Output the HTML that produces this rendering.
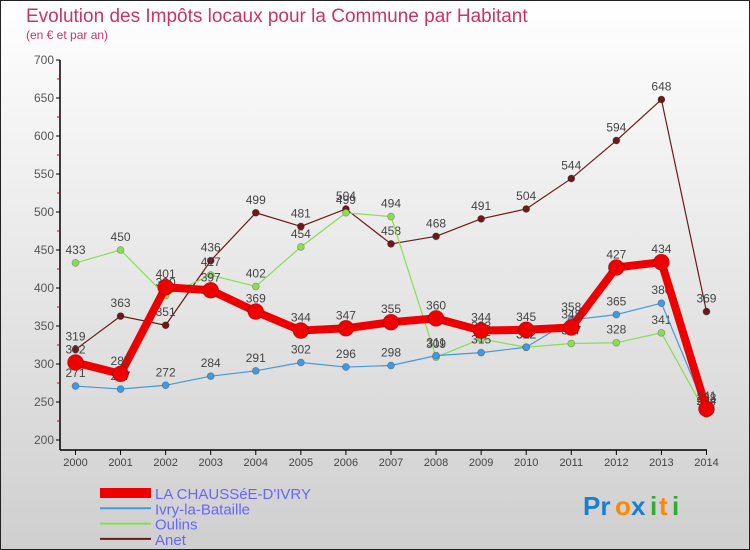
<!DOCTYPE html>
<html><head><meta charset="utf-8"><style>
body{margin:0;}
#wrap{width:750px;height:550px;position:relative;overflow:hidden;font-family:"Liberation Sans",sans-serif;}
svg{display:block}
</style></head><body>
<div id="wrap">
<svg id="chart" width="750" height="550">
<defs><linearGradient id="bg" x1="0" y1="0" x2="0" y2="1"><stop offset="0" stop-color="#ffffff"/><stop offset="1" stop-color="#cfcfcf"/></linearGradient></defs>
<rect x="0.5" y="0.5" width="749" height="549" fill="url(#bg)" stroke="#222"/>
<text x="26" y="22" font-size="19" fill="#cc3366">Evolution des Impôts locaux pour la Commune par Habitant</text>
<text x="26" y="39" font-size="12" fill="#cc3366">(en € et par an)</text>
<g id="axes"></g><g id="series"></g><g id="legend"></g>
<g font-size="26" font-weight="bold">
<text x="583" y="515" fill="#1a7fd0">Pr</text><text x="615" y="515" fill="#ff8800">o</text><text x="631" y="515" fill="#1a7fd0">x</text><text x="650" y="515" fill="#33aa33">i</text><text x="659" y="515" fill="#ff8800">t</text><text x="672" y="515" fill="#33aa33">i</text>
</g>
</svg></div>
<script>
const years=["2000","2001","2002","2003","2004","2005","2006","2007","2008","2009","2010","2011","2012","2013","2014"];
const chaussee=[302,287,401,397,369,344,347,355,360,344,345,348,427,434,241];
const ivry=[271,267,272,284,291,302,296,298,311,315,322,358,365,380,238];
const oulins=[433,450,390,417,402,454,499,494,309,333,322,327,328,341,234];
const anet=[319,363,351,436,499,481,504,458,468,491,504,544,594,648,369];
const yTicks=[200,250,300,350,400,450,500,550,600,650,700];
const NS="http://www.w3.org/2000/svg";
const x=i=>75.5+i*45.07;
const y=v=>440-(v-200)*0.76;
function mk(t,a,p){const e=document.createElementNS(NS,t);for(const k in a)e.setAttribute(k,a[k]);p.appendChild(e);return e;}
const ax=document.getElementById('axes');
const yl=mk('line',{x1:60,y1:60,x2:60,y2:450,stroke:'#000','stroke-width':1.5},ax);


const xl=mk('line',{x1:60,y1:450,x2:707,y2:450,stroke:'#000','stroke-width':1.5},ax);


yTicks.forEach((v,i)=>{
 mk('line',{x1:56,y1:y(v),x2:60,y2:y(v),stroke:'#000'},ax);
 if(i<yTicks.length-1) mk('line',{x1:57,y1:y(v+25),x2:60,y2:y(v+25),stroke:'#d00'},ax);
 const t=mk('text',{x:54,y:y(v)+4,'font-size':12,fill:'#555','text-anchor':'end'},ax);
 t.textContent=v;
 
 
});
years.forEach((yr,i)=>{
 mk('line',{x1:x(i),y1:450,x2:x(i),y2:455,stroke:'#000'},ax);
 const t=mk('text',{x:x(i),y:466,'font-size':11,fill:'#444','text-anchor':'middle'},ax);
 t.textContent=yr;
 
 
});
const sg=document.getElementById('series');
const series=[
 {name:'anet',label:'Anet',data:anet,color:'#6b1a1a',w:1.2,r:3.5},
 {name:'oulins',label:'Oulins',data:oulins,color:'#88dd55',w:1.2,r:3.5},
 {name:'ivry',label:'Ivry-la-Bataille',data:ivry,color:'#4499dd',w:1.2,r:3.5},
 {name:'chaussee',label:'LA CHAUSSéE-D\'IVRY',data:chaussee,color:'#ee0000',w:8,r:8}
];
series.forEach(s=>{
 const g=mk('g',{},sg);
 
 
 const pl=mk('polyline',{points:s.data.map((v,i)=>x(i)+','+y(v)).join(' '),fill:'none',stroke:s.color,'stroke-width':s.w,'stroke-linejoin':'round'},g);
 
 
 s.data.forEach((v,i)=>{
  const c=mk('circle',{cx:x(i),cy:y(v),r:s.r,fill:s.color,stroke:'rgba(0,0,0,0.25)','stroke-width':0.8},g);
  
  
  const t=mk('text',{x:x(i),y:y(v)-9,'font-size':12,fill:'#444','text-anchor':'middle'},g);
  t.textContent=v;
  
  
 });
});
const lg=document.getElementById('legend');
const leg=[series[3],series[2],series[1],series[0]];
leg.forEach((s,i)=>{
 const yy=493+i*15.3;
 const g=mk('g',{},lg);
 
 
 mk('line',{x1:100,y1:yy,x2:151,y2:yy,stroke:s.color,'stroke-width':i==0?10:2},g);
 const t=mk('text',{x:155,y:yy+6,'font-size':15,fill:'#6666ff'},g);
 t.textContent=s.label;
});
</script>
</body></html>
